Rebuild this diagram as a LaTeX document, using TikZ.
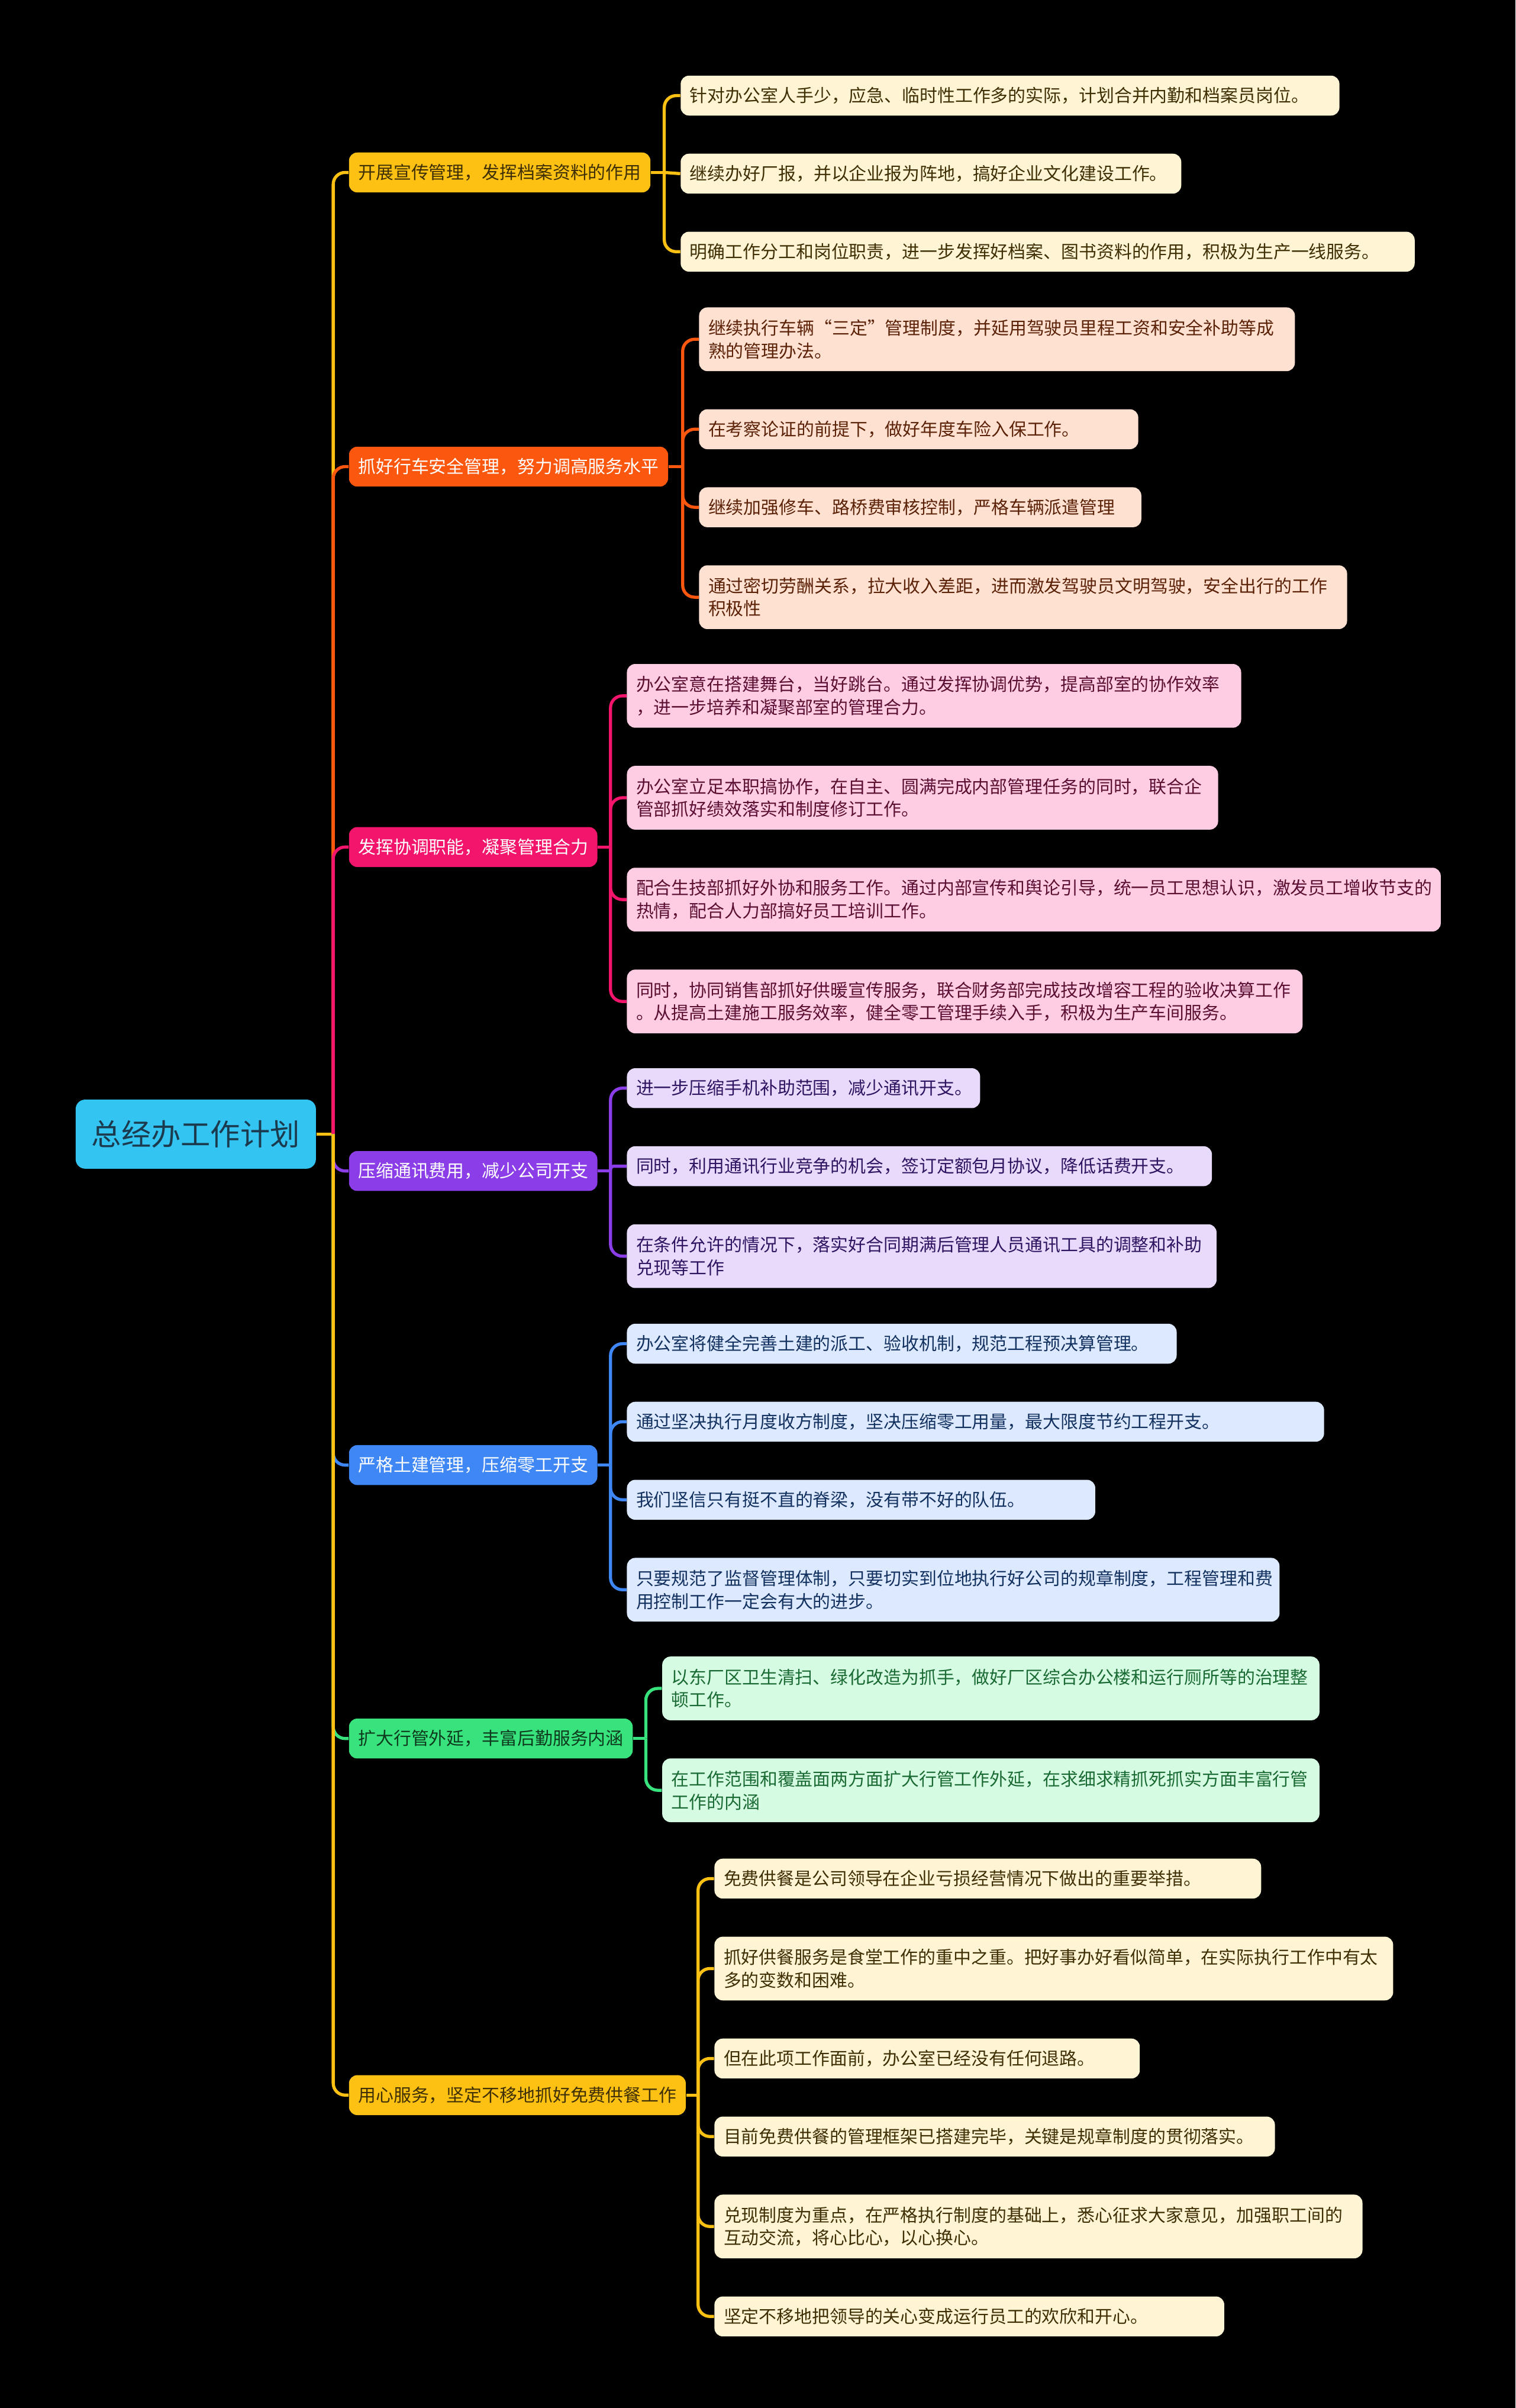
\documentclass[tikz,border=0pt]{standalone}
\usepackage{fontspec}
\usepackage{xcolor}
\usetikzlibrary{positioning}
\newfontfamily\cjk{Noto Sans CJK SC}

\definecolor{rootfill}{HTML}{33C4F2}
\definecolor{roottx}{HTML}{1C3A4D}
\definecolor{yellowbr}{HTML}{FDC113}
\definecolor{yellowlf}{HTML}{FFF4D3}
\definecolor{yellowtx}{HTML}{3F2F05}
\definecolor{orangebr}{HTML}{FC570E}
\definecolor{orangelf}{HTML}{FFE1D2}
\definecolor{orangetx}{HTML}{5B2208}
\definecolor{pinkbr}{HTML}{F2156B}
\definecolor{pinklf}{HTML}{FFCDE3}
\definecolor{pinktx}{HTML}{5A0F33}
\definecolor{purplebr}{HTML}{8B3DE8}
\definecolor{purplelf}{HTML}{E8DAFB}
\definecolor{purpletx}{HTML}{2F1561}
\definecolor{bluebr}{HTML}{3E87F5}
\definecolor{bluelf}{HTML}{DCE9FF}
\definecolor{bluetx}{HTML}{13315F}
\definecolor{greenbr}{HTML}{38E27D}
\definecolor{greenlf}{HTML}{D5FBE2}
\definecolor{greentx}{HTML}{1A6A33}
\definecolor{greendark}{HTML}{0E3B1D}

\begin{document}
\begin{tikzpicture}[
    x=0.02594cm, y=-0.02594cm,
    node distance=0.63cm,
    rootbox/.style={fill=rootfill, text=roottx, font=\cjk\fontsize{14.3}{17}\selectfont, rounded corners=0.16cm, inner xsep=0.27cm, minimum height=1.167cm, anchor=west},
    topic/.style 2 args={fill=#1, text=#2, font=\cjk\fontsize{8.5}{11}\selectfont, rounded corners=0.14cm, inner xsep=0.156cm, inner ysep=0.05cm, minimum height=0.674cm, anchor=west},
    leaf/.style 2 args={fill=#1, text=#2, font=\cjk\fontsize{8.5}{11}\selectfont, rounded corners=0.14cm, inner xsep=0.156cm, inner ysep=0.05cm, minimum height=0.674cm, align=left, anchor=north west},
    yleaf/.style={leaf={yellowlf}{yellowtx}},
    oleaf/.style={leaf={orangelf}{orangetx}},
    pleaf/.style={leaf={pinklf}{pinktx}},
    vleaf/.style={leaf={purplelf}{purpletx}},
    bleaf/.style={leaf={bluelf}{bluetx}},
    gleaf/.style={leaf={greenlf}{greentx}},
    tw/.style={text width=#1*0.02594cm-0.312cm},
    two/.style={minimum height=1.0765cm},
    under/.style={below=of #1.south west, anchor=north west},
    link/.style={draw=#1, line width=1.5pt, rounded corners=0.2cm}
]
\useasboundingbox (0,0) rectangle (987,1568);
\fill[black] (0,0) rectangle (987,1568);

\node[rootbox] (root) at (49,738.5) {总经办工作计划};

\node[topic={yellowbr}{yellowtx}] (b1) at (227,112.3) {开展宣传管理，发挥档案资料的作用};
\node[topic={orangebr}{white}] (b2) at (227,303.85) {抓好行车安全管理，努力调高服务水平};
\node[topic={pinkbr}{white}] (b3) at (227,551.55) {发挥协调职能，凝聚管理合力};
\node[topic={purplebr}{white}] (b4) at (227,762.5) {压缩通讯费用，减少公司开支};
\node[topic={bluebr}{white}] (b5) at (227,954) {严格土建管理，压缩零工开支};
\node[topic={greenbr}{greendark}] (b6) at (227,1132.05) {扩大行管外延，丰富后勤服务内涵};
\node[topic={yellowbr}{yellowtx}] (b7) at (227,1364.25) {用心服务，坚定不移地抓好免费供餐工作};

\node[yleaf, tw=429] (l11) at (443,49) {针对办公室人手少，应急、临时性工作多的实际，计划合并内勤和档案员岗位。};
\node[yleaf, tw=326, under=l11] (l12) {继续办好厂报，并以企业报为阵地，搞好企业文化建设工作。};
\node[yleaf, tw=478, under=l12] (l13) {明确工作分工和岗位职责，进一步发挥好档案、图书资料的作用，积极为生产一线服务。};

\node[oleaf, two, tw=388] (l21) at (455,199.9) {继续执行车辆“三定”管理制度，并延用驾驶员里程工资和安全补助等成\\熟的管理办法。};
\node[oleaf, tw=286, under=l21] (l22) {在考察论证的前提下，做好年度车险入保工作。};
\node[oleaf, tw=288, under=l22] (l23) {继续加强修车、路桥费审核控制，严格车辆派遣管理};
\node[oleaf, two, tw=422, under=l23] (l24) {通过密切劳酬关系，拉大收入差距，进而激发驾驶员文明驾驶，安全出行的工作\\积极性};

\node[pleaf, two, tw=400] (l31) at (408,432.1) {办公室意在搭建舞台，当好跳台。通过发挥协调优势，提高部室的协作效率\\，进一步培养和凝聚部室的管理合力。};
\node[pleaf, two, tw=385, under=l31] (l32) {办公室立足本职搞协作，在自主、圆满完成内部管理任务的同时，联合企\\管部抓好绩效落实和制度修订工作。};
\node[pleaf, two, tw=530, under=l32] (l33) {配合生技部抓好外协和服务工作。通过内部宣传和舆论引导，统一员工思想认识，激发员工增收节支的\\热情，配合人力部搞好员工培训工作。};
\node[pleaf, two, tw=440, under=l33] (l34) {同时，协同销售部抓好供暖宣传服务，联合财务部完成技改增容工程的验收决算工作\\。从提高土建施工服务效率，健全零工管理手续入手，积极为生产车间服务。};

\node[vleaf, tw=230] (l41) at (408,695.3) {进一步压缩手机补助范围，减少通讯开支。};
\node[vleaf, tw=381, under=l41] (l42) {同时，利用通讯行业竞争的机会，签订定额包月协议，降低话费开支。};
\node[vleaf, two, tw=384, under=l42] (l43) {在条件允许的情况下，落实好合同期满后管理人员通讯工具的调整和补助\\兑现等工作};

\node[bleaf, tw=358] (l51) at (408,861.7) {办公室将健全完善土建的派工、验收机制，规范工程预决算管理。};
\node[bleaf, tw=454, under=l51] (l52) {通过坚决执行月度收方制度，坚决压缩零工用量，最大限度节约工程开支。};
\node[bleaf, tw=305, under=l52] (l53) {我们坚信只有挺不直的脊梁，没有带不好的队伍。};
\node[bleaf, two, tw=425, under=l53] (l54) {只要规范了监督管理体制，只要切实到位地执行好公司的规章制度，工程管理和费\\用控制工作一定会有大的进步。};

\node[gleaf, two, tw=428] (l61) at (431,1078.4) {以东厂区卫生清扫、绿化改造为抓手，做好厂区综合办公楼和运行厕所等的治理整\\顿工作。};
\node[gleaf, two, tw=428, under=l61] (l62) {在工作范围和覆盖面两方面扩大行管工作外延，在求细求精抓死抓实方面丰富行管\\工作的内涵};

\node[yleaf, tw=356] (l71) at (465,1210) {免费供餐是公司领导在企业亏损经营情况下做出的重要举措。};
\node[yleaf, two, tw=442, under=l71] (l72) {抓好供餐服务是食堂工作的重中之重。把好事办好看似简单，在实际执行工作中有太\\多的变数和困难。};
\node[yleaf, tw=277, under=l72] (l73) {但在此项工作面前，办公室已经没有任何退路。};
\node[yleaf, tw=365, under=l73] (l74) {目前免费供餐的管理框架已搭建完毕，关键是规章制度的贯彻落实。};
\node[yleaf, two, tw=422, under=l74] (l75) {兑现制度为重点，在严格执行制度的基础上，悉心征求大家意见，加强职工间的\\互动交流，将心比心，以心换心。};
\node[yleaf, tw=332, under=l75] (l76) {坚定不移地把领导的关心变成运行员工的欢欣和开心。};

\coordinate (j) at (217,738.5);
\draw[link=yellowbr] (root.east) -- (j);
\draw[link=yellowbr] (j) |- (b1.west);
\draw[link=orangebr] (j) |- (b2.west);
\draw[link=pinkbr] (j) |- (b3.west);
\draw[link=purplebr] (j) |- (b4.west);
\draw[link=bluebr] (j) |- (b5.west);
\draw[link=greenbr] (j) |- (b6.west);
\draw[link=yellowbr] (j) |- (b7.west);

\coordinate (s1) at ([xshift=-0.27cm]l11.west |- b1.east);
\draw[link=yellowbr] (b1.east) -- (s1);
\draw[link=yellowbr] (s1) |- (l11.west);
\draw[link=yellowbr] (s1) -- (l12.west);
\draw[link=yellowbr] (s1) |- (l13.west);

\coordinate (s2) at ([xshift=-0.27cm]l21.west |- b2.east);
\draw[link=orangebr] (b2.east) -- (s2);
\foreach \n in {1,...,4}
  \draw[link=orangebr] (s2) |- (l2\n.west);

\coordinate (s3) at ([xshift=-0.27cm]l31.west |- b3.east);
\draw[link=pinkbr] (b3.east) -- (s3);
\foreach \n in {1,...,4}
  \draw[link=pinkbr] (s3) |- (l3\n.west);

\coordinate (s4) at ([xshift=-0.27cm]l41.west |- b4.east);
\draw[link=purplebr] (b4.east) -- (s4);
\draw[link=purplebr] (s4) |- (l41.west);
\draw[link=purplebr, rounded corners=0.05cm] (s4) |- (l42.west);
\draw[link=purplebr] (s4) |- (l43.west);

\coordinate (s5) at ([xshift=-0.27cm]l51.west |- b5.east);
\draw[link=bluebr] (b5.east) -- (s5);
\foreach \n in {1,...,4}
  \draw[link=bluebr] (s5) |- (l5\n.west);

\coordinate (s6) at ([xshift=-0.27cm]l61.west |- b6.east);
\draw[link=greenbr] (b6.east) -- (s6);
\foreach \n in {1,2}
  \draw[link=greenbr] (s6) |- (l6\n.west);

\coordinate (s7) at ([xshift=-0.27cm]l71.west |- b7.east);
\draw[link=yellowbr] (b7.east) -- (s7);
\foreach \n in {1,...,6}
  \draw[link=yellowbr] (s7) |- (l7\n.west);
\end{tikzpicture}
\end{document}
